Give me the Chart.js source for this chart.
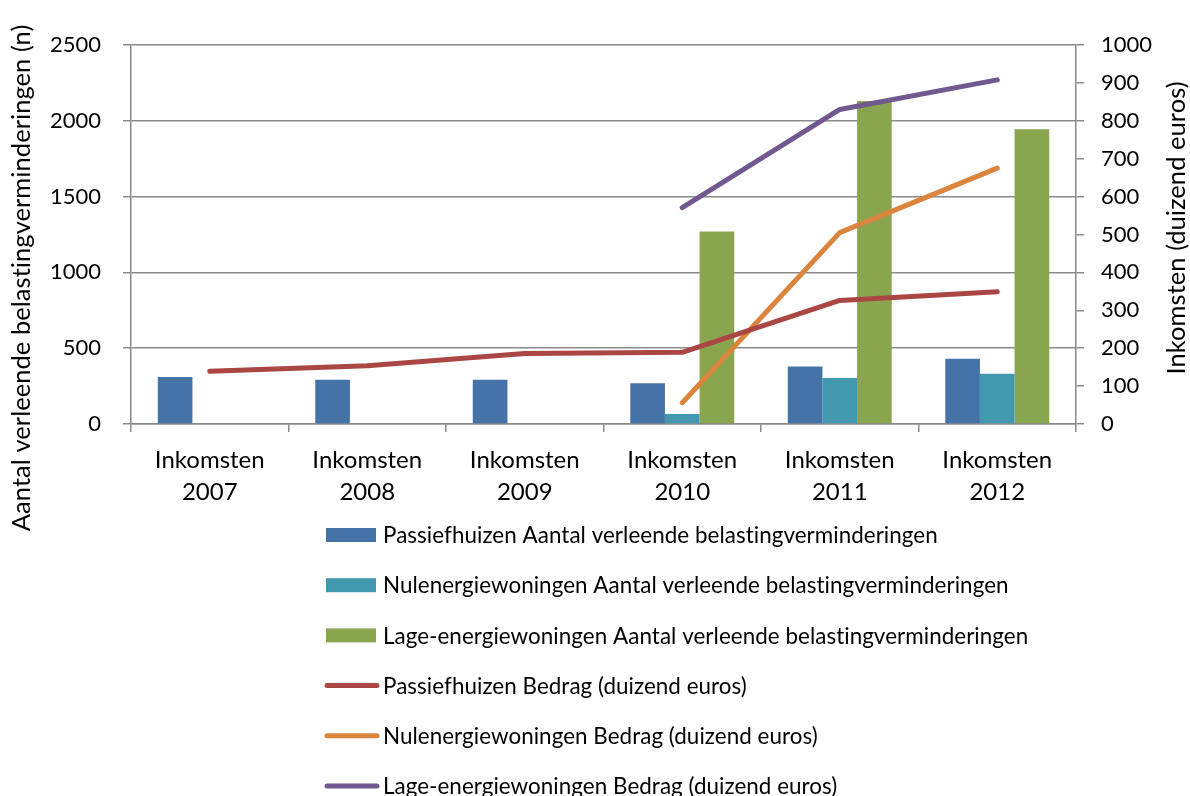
<!DOCTYPE html>
<html>
<head>
<meta charset="utf-8">
<script src="https://cdn.jsdelivr.net/npm/chart.js@4"></script>
<style>
  html, body { margin: 0; padding: 0; background: #fff; }
  #wrap { width: 1190px; height: 796px; position: relative; }
</style>
</head>
<body>
<div id="wrap"><canvas id="c" width="1190" height="796"></canvas></div>
<script>
// ---- data ----
const categories = [
  ['Inkomsten', '2007'], ['Inkomsten', '2008'], ['Inkomsten', '2009'],
  ['Inkomsten', '2010'], ['Inkomsten', '2011'], ['Inkomsten', '2012']
];
const passiefAantal = [310, 292, 292, 269, 379, 430];
const nulAantal     = [null, null, null, 66, 303, 331];
const lageAantal    = [null, null, null, 1270, 2130, 1945];
const passiefBedrag = [139, 154, 186, 189, 326, 349];
const nulBedrag     = [null, null, null, 56, 505, 675];
const lageBedrag    = [null, null, null, 571, 830, 908];
const seriesLabels = [
  'Passiefhuizen Aantal verleende belastingverminderingen',
  'Nulenergiewoningen Aantal verleende belastingverminderingen',
  'Lage-energiewoningen Aantal verleende belastingverminderingen',
  'Passiefhuizen Bedrag (duizend euros)',
  'Nulenergiewoningen Bedrag (duizend euros)',
  'Lage-energiewoningen Bedrag (duizend euros)'
];
const leftTitle = 'Aantal verleende belastingverminderingen (n)';
const rightTitle = 'Inkomsten (duizend euros)';

const FONT = 'Lato';
const gridColor = '#8a8a8a';

function barDs(label, data, color) {
  return { type: 'bar', label, data, backgroundColor: color, yAxisID: 'y', order: 1,
           categoryPercentage: 0.66, barPercentage: 1.0, borderWidth: 0 };
}
function lineDs(label, data, color) {
  return { type: 'line', label, data, borderColor: color, backgroundColor: color, yAxisID: 'y1', order: 0,
           borderWidth: 5, pointRadius: 0, tension: 0, spanGaps: false,
           borderCapStyle: 'round', borderJoinStyle: 'round', fill: false };
}

const customDraw = {
  id: 'customDraw',
  afterDraw(chart) {
    const ctx = chart.ctx;
    ctx.save();
    if ('letterSpacing' in ctx) ctx.letterSpacing = '0.05px';
    // axis titles
    ctx.fillStyle = '#000';
    ctx.font = '25.5px ' + FONT;
    ctx.textAlign = 'center';
    ctx.textBaseline = 'middle';
    ctx.save(); ctx.translate(22, 278); ctx.rotate(-Math.PI / 2); ctx.fillText(leftTitle, 0, 0); ctx.restore();
    ctx.save(); ctx.translate(1177, 228); ctx.rotate(-Math.PI / 2); ctx.fillText(rightTitle, 0, 0); ctx.restore();
    // legend
    const ds = chart.data.datasets;
    ctx.font = '22.4px ' + FONT;
    ctx.textAlign = 'left';
    for (let i = 0; i < ds.length; i++) {
      const y = 535 + i * 50.2;
      if (ds[i].type === 'bar') {
        ctx.fillStyle = ds[i].backgroundColor;
        ctx.fillRect(326, y - 7, 50, 14);
      } else {
        ctx.strokeStyle = ds[i].borderColor;
        ctx.lineWidth = 5;
        ctx.lineCap = 'round';
        ctx.beginPath(); ctx.moveTo(327, y); ctx.lineTo(377, y); ctx.stroke();
      }
      ctx.fillStyle = '#000';
      ctx.fillText(ds[i].label, 383, y + 1);
    }
    ctx.restore();
  }
};

const plain = v => String(v);

new Chart(document.getElementById('c'), {
  data: {
    labels: categories,
    datasets: [
      barDs(seriesLabels[0], passiefAantal, '#4572A7'),
      barDs(seriesLabels[1], nulAantal, '#4198AF'),
      barDs(seriesLabels[2], lageAantal, '#89A54E'),
      lineDs(seriesLabels[3], passiefBedrag, '#AA4643'),
      lineDs(seriesLabels[4], nulBedrag, '#DB843D'),
      lineDs(seriesLabels[5], lageBedrag, '#71588F')
    ]
  },
  options: {
    responsive: false,
    animation: false,
    devicePixelRatio: 1,
    layout: { padding: { left: 0, right: 0, top: 45, bottom: 272 } },
    plugins: { legend: { display: false }, tooltip: { enabled: false }, title: { display: false } },
    scales: {
      x: {
        type: 'category',
        offset: true,
        grid: { display: true, offset: true, drawOnChartArea: false, drawTicks: true, tickLength: 8,
                color: gridColor, lineWidth: 1.5 },
        border: { display: true, color: gridColor, width: 1.5 },
        ticks: { color: '#000', font: { family: FONT, size: 24, lineHeight: 1.33 }, padding: 12, maxRotation: 0, autoSkip: false },
        afterFit(s) { s.height = 100; }
      },
      y: {
        position: 'left',
        min: 0, max: 2500,
        ticks: { stepSize: 500, color: '#000', font: { family: FONT, size: 22 }, padding: 22, callback: plain },
        grid: { color: gridColor, lineWidth: 1.5, tickLength: 8, drawTicks: true },
        border: { display: true, color: gridColor, width: 1.5 },
        afterFit(s) { s.width = 131; }
      },
      y1: {
        position: 'right',
        min: 0, max: 1000,
        ticks: { stepSize: 100, color: '#000', font: { family: FONT, size: 22 }, padding: 17, callback: plain },
        grid: { drawOnChartArea: false, color: gridColor, lineWidth: 1.5, tickLength: 8, drawTicks: true },
        border: { display: true, color: gridColor, width: 1.5 },
        afterFit(s) { s.width = 114; }
      }
    }
  },
  plugins: [customDraw]
});
</script>
</body>
</html>
